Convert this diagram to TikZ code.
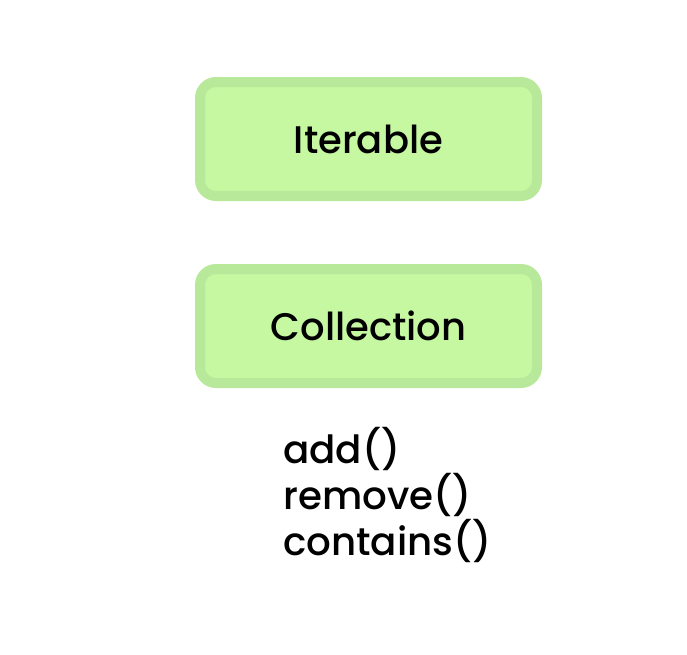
\documentclass[tikz,border=0pt]{standalone}
\usepackage{fontspec}
\setmainfont{Poppins}[UprightFont=* Medium]
\definecolor{boxfill}{HTML}{C5F8A0}
\definecolor{boxline}{HTML}{B8E89A}
\begin{document}
\begin{tikzpicture}[x=1pt,y=-1pt,
  classbox/.style={draw=boxline,fill=boxfill,line width=10pt,rounded corners=16pt,
    minimum width=337pt,minimum height=114pt,inner sep=0pt,font=\fontsize{38.5}{44}\selectfont},
  methods/.style={align=left,anchor=base west,inner sep=0pt,font=\fontsize{38.8}{46}\selectfont}]
\useasboundingbox (0,0) rectangle (687,654);
\node[classbox] (iter) at (368.5,139) {Iterable};
\node[classbox] (coll) at (368.5,326) {Collection};
\node[methods] (meth) at (283,555) {add()\\remove()\\contains()};
\end{tikzpicture}
\end{document}
